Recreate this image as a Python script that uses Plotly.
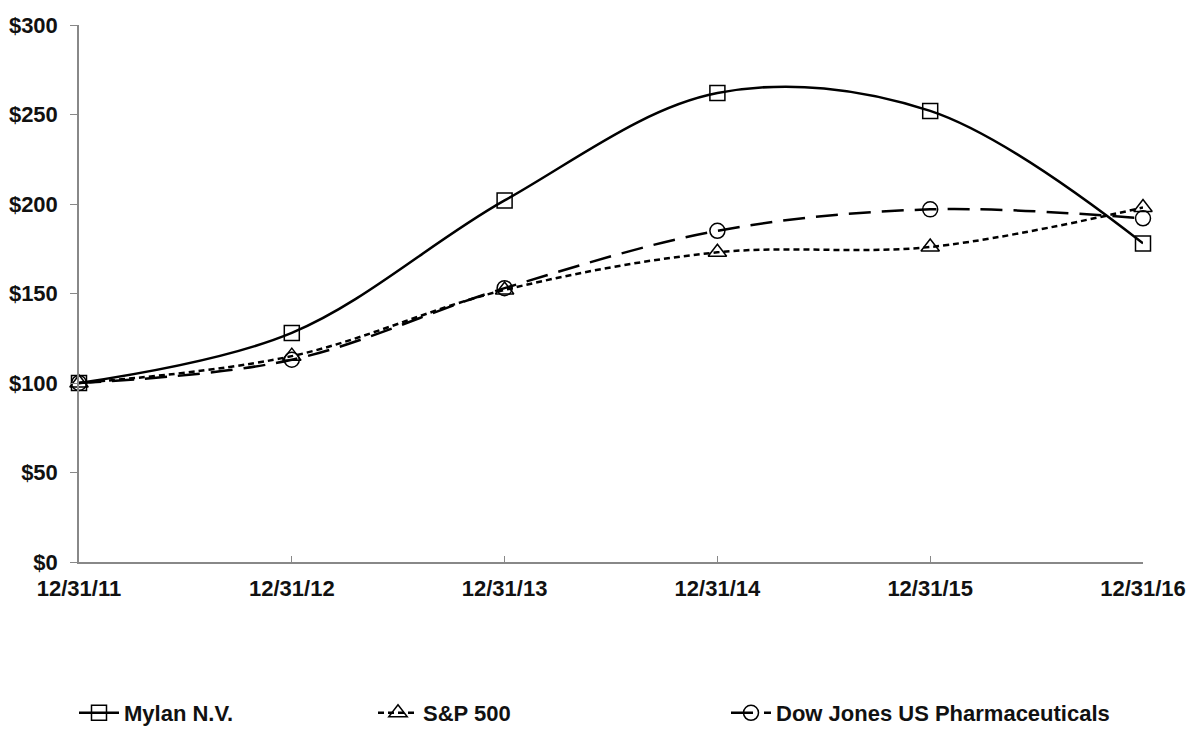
import plotly.graph_objects as go

dates = ["12/31/11", "12/31/12", "12/31/13", "12/31/14", "12/31/15", "12/31/16"]
mylan = [100, 128, 202, 262, 252, 178]
sp500 = [100, 115, 152, 173, 176, 198]
djpharma = [100, 113, 153, 185, 197, 192]
y_ticks = [0, 50, 100, 150, 200, 250, 300]
y_labels = ["$" + str(v) for v in y_ticks]

FONT = dict(family="Liberation Sans, Arial, sans-serif", size=22, color="#111111", weight="bold")

fig = go.Figure()
fig.add_trace(go.Scatter(
    x=dates, y=mylan, name="Mylan N.V.", mode="lines+markers",
    line=dict(color="black", width=2.5, shape="spline", smoothing=1.0),
    marker=dict(symbol="square-open", size=15, color="black", line=dict(width=1.5)),
    cliponaxis=False, legend="legend", showlegend=True))
fig.add_trace(go.Scatter(
    x=dates, y=sp500, name="S&P 500", mode="lines+markers",
    line=dict(color="black", width=2.5, shape="spline", smoothing=1.0, dash="6px,4px"),
    marker=dict(symbol="triangle-up-open", size=16, color="black", line=dict(width=1.5)),
    cliponaxis=False, legend="legend2", showlegend=True))
fig.add_trace(go.Scatter(
    x=dates, y=djpharma, name="Dow Jones US Pharmaceuticals", mode="lines+markers",
    line=dict(color="black", width=2.5, shape="spline", smoothing=1.0, dash="22px,11px"),
    marker=dict(symbol="circle-open", size=15, color="black", line=dict(width=1.5)),
    cliponaxis=False, legend="legend3", showlegend=True))

W, H = 1189, 731
L, T = 79, 25
R = W - 1143
B = H - 562

def cx(px):
    return px / W

def cy(py):
    return (H - py) / H

leg_common = dict(orientation="h", yanchor="middle", xanchor="left",
                  xref="container", yref="container", y=cy(713),
                  font=FONT, bgcolor="rgba(0,0,0,0)", itemwidth=40)

fig.update_layout(
    width=W, height=H,
    margin=dict(l=L, r=R, t=T, b=B, autoexpand=False),
    paper_bgcolor="white", plot_bgcolor="white",
    font=FONT,
    showlegend=True,
    xaxis=dict(type="category", range=[0, 5], showgrid=False, showline=True,
               linecolor="#888888", linewidth=1.5, ticks="inside", ticklen=6,
               tickcolor="#888888", tickfont=FONT, zeroline=False, automargin=False,
               ticklabelstandoff=6),
    yaxis=dict(range=[0, 300], tickmode="array", tickvals=y_ticks, ticktext=y_labels,
               showgrid=False, showline=True, linecolor="#888888", linewidth=1.5,
               ticks="outside", ticklen=7, tickcolor="#888888", tickfont=FONT,
               zeroline=False, ticklabelstandoff=8, automargin=False),
    legend=dict(x=cx(74), **leg_common),
    legend2=dict(x=cx(373), **leg_common),
    legend3=dict(x=cx(726), **leg_common),
)

fig.write_html(
    "out.html",
    config={"displayModeBar": False},
    post_script="document.body.style.margin='0';document.body.style.overflow='hidden';",
)
